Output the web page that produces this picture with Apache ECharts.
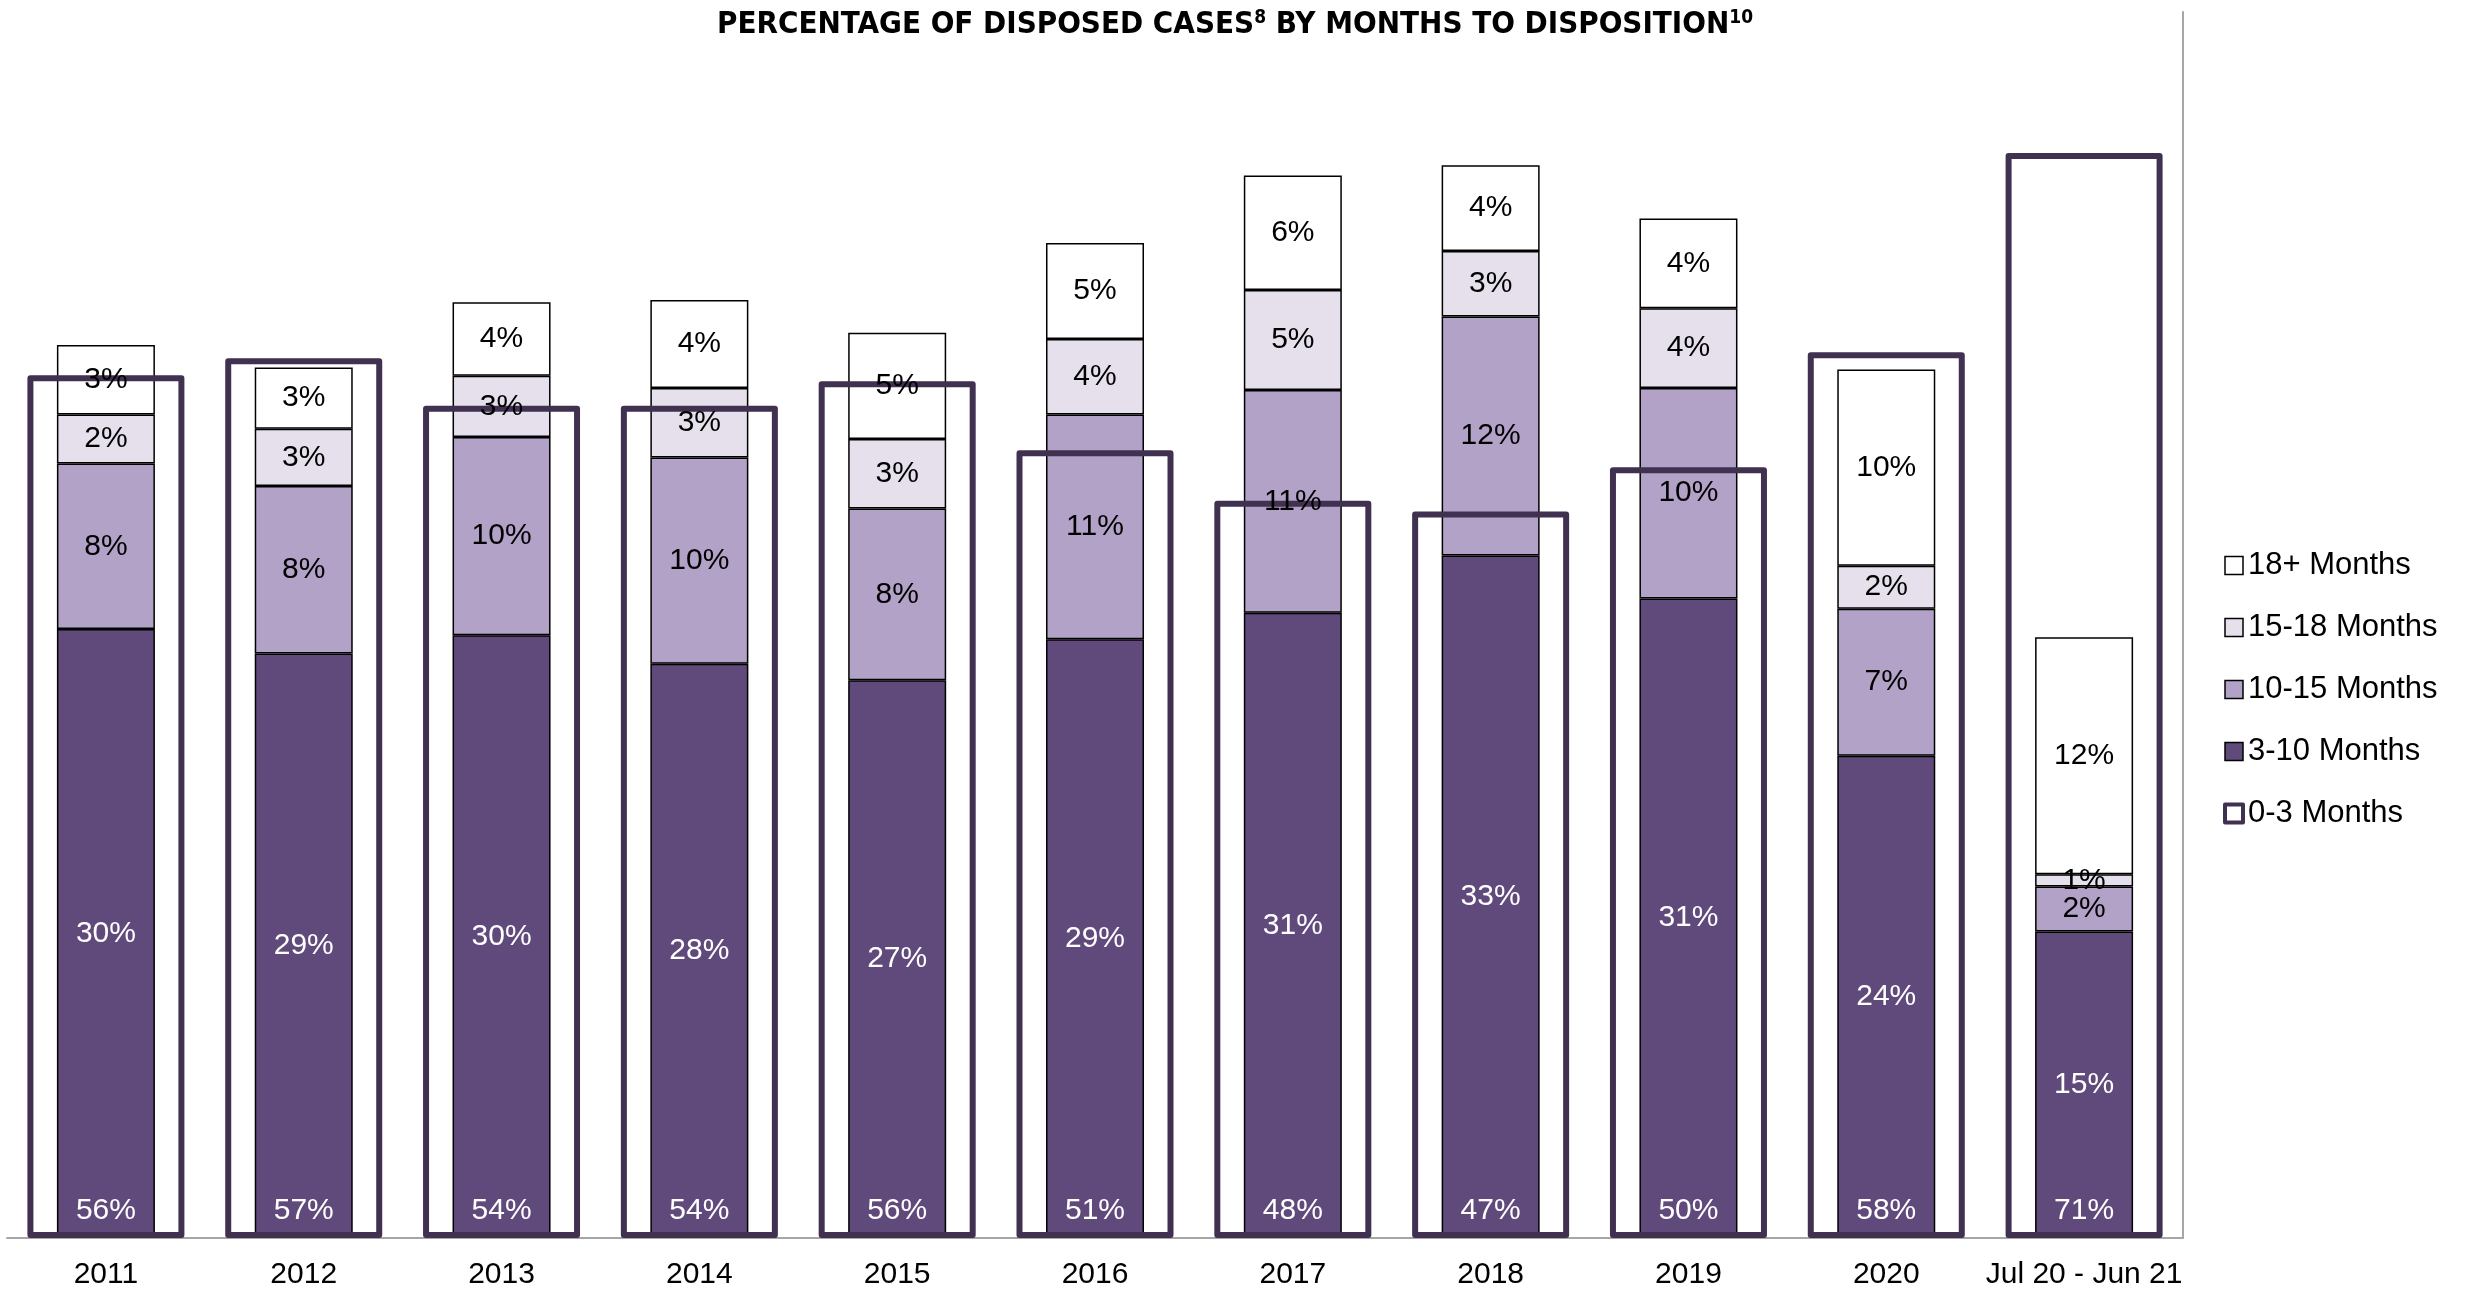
<!DOCTYPE html>
<html>
<head>
<meta charset="utf-8">
<script src="https://cdn.jsdelivr.net/npm/echarts@6/dist/echarts.min.js"></script>
<style>
html,body{margin:0;padding:0;background:#fff;}
#c{width:2470px;height:1296px;}
</style>
</head>
<body>
<div id="c"></div>
<script>
var categories = ['2011','2012','2013','2014','2015','2016','2017','2018','2019','2020','Jul 20 - Jun 21'];
var months0to3   = [56.3, 57.4, 54.3, 54.3, 55.9, 51.4, 48.1, 47.4, 50.3, 57.8, 70.8];
var months3to10  = [29.8, 28.6, 29.5, 28.1, 27.3, 29.3, 30.6, 33.4, 31.3, 23.6, 15.0];
var months10to15 = [8.1, 8.2, 9.7, 10.1, 8.4, 11.0, 10.9, 11.7, 10.3, 7.2, 2.2];
var months15to18 = [2.4, 2.8, 3.0, 3.4, 3.4, 3.7, 4.9, 3.2, 3.9, 2.1, 0.6];
var months18plus = [3.4, 3.0, 3.6, 4.3, 5.2, 4.7, 5.6, 4.2, 4.4, 9.6, 11.6];

var FONT = "'Liberation Sans', Arial, sans-serif";
var TFONT = "'Liberation Sans Narrow', 'DejaVu Sans Condensed', Arial, sans-serif";
var OUTLINE = '#403151';
var C310 = '#604A7B', C1015 = '#B3A2C7', C1518 = '#E6E0EC', C18 = '#FFFFFF';
function pct(p){ return Math.round(p.value) + '%'; }

function stackSeries(name, data, color){
  return {
    name: name, type: 'bar', stack: 'main', xAxisIndex: 1, yAxisIndex: 1,
    barWidth: 98, z: 2, data: data,
    itemStyle: { color: color, borderColor: '#000', borderWidth: 1.5 },
    label: { show: false }
  };
}
function labelSeries(name, data, txtColor){
  return {
    name: name + '_lbl', type: 'bar', stack: 'lbl', xAxisIndex: 2, yAxisIndex: 1,
    barWidth: 98, z: 4, silent: true, data: data,
    itemStyle: { color: 'rgba(0,0,0,0)', borderWidth: 0 },
    label: { show: true, position: 'inside', formatter: pct, color: txtColor,
             fontFamily: FONT, fontSize: 30 }
  };
}

var chart = echarts.init(document.getElementById('c'), null, {renderer: 'canvas'});
chart.setOption({
  animation: false,
  backgroundColor: '#fff',
  title: {
    left: 'center', top: 3,
    text: '{t|PERCENTAGE OF DISPOSED CASES}{s|8}{t| BY MONTHS TO DISPOSITION}{s|10}',
    textStyle: {
      rich: {
        t: { fontFamily: TFONT, fontWeight: 'bold', fontSize: 31, color: '#000', lineHeight: 34 },
        s: { fontFamily: TFONT, fontSize: 19, color: '#000', padding: [0, 0, 14, 0], lineHeight: 34 }
      }
    }
  },
  legend: {
    orient: 'vertical', left: 2218, top: 545,
    itemWidth: 18, itemHeight: 18, itemGap: 31,
    icon: 'rect',
    textStyle: { fontFamily: FONT, fontSize: 31, color: '#000' },
    data: [
      { name: '18+ Months', itemStyle: { color: C18, borderColor: '#000', borderWidth: 1.5 } },
      { name: '15-18 Months', itemStyle: { color: C1518, borderColor: '#000', borderWidth: 1.5 } },
      { name: '10-15 Months', itemStyle: { color: C1015, borderColor: '#000', borderWidth: 1.5 } },
      { name: '3-10 Months', itemStyle: { color: C310, borderColor: '#000', borderWidth: 1.5 } },
      { name: '0-3 Months', itemStyle: { color: '#fff', borderColor: OUTLINE, borderWidth: 4 } }
    ]
  },
  grid: { left: 7, right: 287, top: 12, bottom: 58 },
  xAxis: [
    { type: 'category', data: categories, gridIndex: 0,
      axisLine: { show: true, lineStyle: { color: '#A6A6A6', width: 2 } },
      axisTick: { show: false },
      axisLabel: { fontFamily: FONT, fontSize: 30, color: '#000', margin: 22, interval: 0 } },
    { type: 'category', data: categories, gridIndex: 0, show: false },
    { type: 'category', data: categories, gridIndex: 0, show: false }
  ],
  yAxis: [
    { type: 'value', min: 0, max: 80, show: false, splitLine: { show: false } },
    { type: 'value', min: 0, max: 60, position: 'right',
      axisLine: { show: true, lineStyle: { color: '#A6A6A6', width: 2 } },
      axisTick: { show: false }, axisLabel: { show: false }, splitLine: { show: false } }
  ],
  series: [
    stackSeries('3-10 Months', months3to10, C310),
    stackSeries('10-15 Months', months10to15, C1015),
    stackSeries('15-18 Months', months15to18, C1518),
    stackSeries('18+ Months', months18plus, C18),
    {
      name: '0-3 Months', type: 'bar', xAxisIndex: 0, yAxisIndex: 0,
      barWidth: 157, z: 3, data: months0to3,
      itemStyle: { color: 'rgba(0,0,0,0)', borderColor: OUTLINE, borderWidth: 6, borderJoin: 'round' },
      label: { show: true, position: 'insideBottom', distance: 12, formatter: pct,
               color: '#fff', fontFamily: FONT, fontSize: 30 }
    },
    labelSeries('3-10 Months', months3to10, '#fff'),
    labelSeries('10-15 Months', months10to15, '#000'),
    labelSeries('15-18 Months', months15to18, '#000'),
    labelSeries('18+ Months', months18plus, '#000')
  ]
});
</script>
</body>
</html>
